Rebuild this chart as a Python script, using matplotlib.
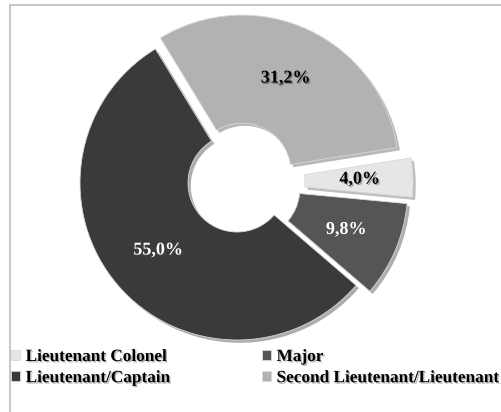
import matplotlib
matplotlib.use("Agg")
import matplotlib.pyplot as plt
import matplotlib.patheffects as pe
from matplotlib.patches import Rectangle

# ranks and their shares (%)
ranks = ["Lieutenant Colonel", "Major", "Lieutenant/Captain",
         "Second Lieutenant/Lieutenant"]
shares = [4.0, 9.8, 55.0, 31.2]
colors = ["#e6e6e6", "#555555", "#3a3a3a", "#b2b2b2"]
label_colors = ["black", "white", "white", "black"]
explode = [19, 15, 0, 12]

plt.rcParams['font.family'] = ['Liberation Serif', 'DejaVu Serif']

fig = plt.figure(figsize=(5.02, 4.12), dpi=100)
ax = fig.add_axes([0, 0, 1, 1])

# chart border (only left/top fall inside the image)
fig.patches.append(Rectangle((10, -20), 520, 427, transform=None,
                             fill=False, edgecolor="#bdbdbd", lw=1.2))

shadow = [pe.SimplePatchShadow(offset=(2, -2), alpha=0.35), pe.Normal()]

wedges, texts, autotexts = ax.pie(
    shares, colors=colors, explode=explode, startangle=9,
    counterclock=False, radius=157, center=(237, 229),
    wedgeprops=dict(width=108, edgecolor="#d8d8d8", linewidth=0.6),
    autopct=lambda p: f"{p:.1f}%".replace(".", ","), pctdistance=0.66,
    textprops=dict(fontsize=13, fontweight="bold"))

# pie resets the limits for a unit circle, so set pixel-sized ones afterwards
ax.set_xlim(0, 502)
ax.set_ylim(0, 412)
ax.set_aspect('equal')
ax.axis('off')

for w in wedges:
    w.set_path_effects(shadow)
for t, c in zip(autotexts, label_colors):
    t.set_color(c)
    t.set_path_effects([pe.withSimplePatchShadow(offset=(1, -1), alpha=0.3)])

# legend fills column-wise, so reorder for two rows
order = [0, 2, 1, 3]
leg = ax.legend([wedges[i] for i in order], [ranks[i] for i in order],
                ncol=2, loc="upper left", bbox_to_anchor=(11, 63),
                bbox_transform=ax.transData, frameon=False,
                prop=dict(size=12.4, weight="bold"),
                handlelength=0.5, handleheight=0.5,
                handletextpad=0.35, labelspacing=0.3, columnspacing=5.3,
                borderpad=0, borderaxespad=0)
for h in leg.legend_handles:
    h.set_path_effects([])
for t in leg.get_texts():
    t.set_path_effects([pe.withSimplePatchShadow(offset=(1, -1), alpha=0.3)])

fig.savefig("out.png", dpi=100)
